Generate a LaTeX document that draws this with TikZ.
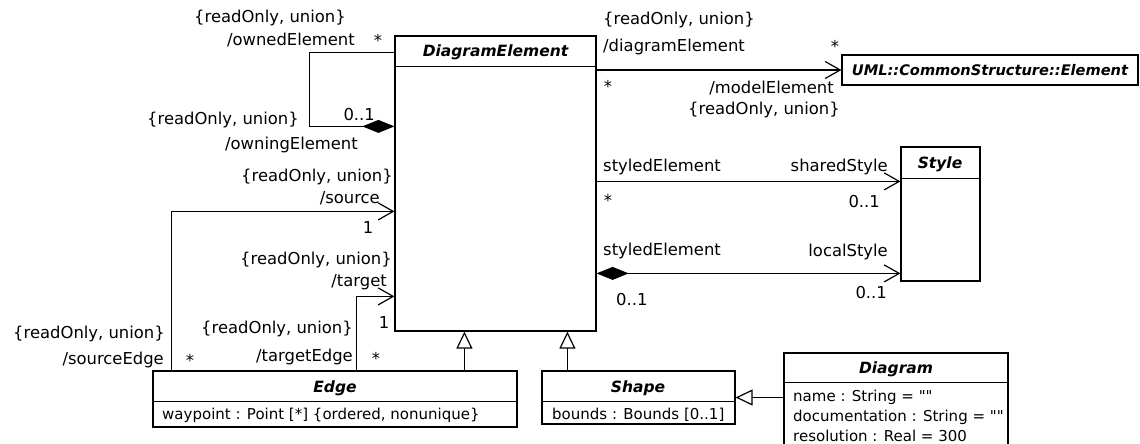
\documentclass[tikz,border=0pt]{standalone}
\usepackage{fontspec}
\setmainfont{DejaVu Sans}[Ligatures=TeXOff]
\usetikzlibrary{positioning, calc, arrows.meta}
\tikzset{
  cls/.style={draw, line width=1.2pt, inner sep=0pt},
  lbl/.style={inner sep=0pt, font=\fontsize{16.4}{18}\selectfont},
  cname/.style={inner sep=0pt, font=\fontsize{15.5}{18}\selectfont\bfseries\itshape},
  attr/.style={inner sep=0pt, anchor=west, font=\fontsize{15}{18}\selectfont},
  nav/.style={line width=1.2pt, -{Straight Barb[length=15pt,width=17pt]}},
  gen/.style={line width=1.2pt, -{Triangle[open,length=17pt,width=16pt,fill=white]}},
  comp/.style={line width=1.2pt, {Diamond[length=32pt,width=13pt]}-{Straight Barb[length=15pt,width=17pt]}},
}
\begin{document}
\begin{tikzpicture}[x=1pt, y=-1pt]
\useasboundingbox (0,0) rectangle (1140,444);
% classes
\node[cls, minimum width=201pt, minimum height=295pt] (de) at (495.5,183.5) {};
\draw[line width=1.2pt] ($(de.north west)+(0,31)$) -- ($(de.north east)+(0,31)$);
\node[cname] (denm) at (495.5,52) {DiagramElement};
\node[cls, cname, font=\fontsize{14.6}{18}\selectfont\bfseries\itshape, minimum width=296pt, minimum height=30pt] (el) at (990,70) {UML::CommonStructure::Element};
\node[cls, minimum width=79pt, minimum height=134pt] (st) at (940.5,214) {};
\draw[line width=1.2pt] ($(st.north west)+(0,32)$) -- ($(st.north east)+(0,32)$);
\node[cname] (stnm) at (940,164) {Style};
\node[cls, minimum width=364pt, minimum height=56pt] (ed) at (335,399) {};
\draw[line width=1.2pt] ($(ed.north west)+(0,31)$) -- ($(ed.north east)+(0,31)$);
\node[cname] (ednm) at (335,388) {Edge};
\node[attr] (edat) at (162,415) {waypoint : Point [*] \{ordered, nonunique\}};
\node[cls, minimum width=193pt, minimum height=53pt] (sh) at (638.5,397.5) {};
\draw[line width=1.2pt] ($(sh.north west)+(0,31)$) -- ($(sh.north east)+(0,31)$);
\node[cname] (shnm) at (638,388) {Shape};
\node[attr] (shat) at (552,415) {bounds : Bounds [0..1]};
\node[cls, minimum width=224pt, minimum height=107pt] (dg) at (896,406.5) {};
\draw[line width=1.2pt] ($(dg.north west)+(0,30)$) -- ($(dg.north east)+(0,30)$);
\node[cname] (dgnm) at (896,369) {Diagram};
\node[attr] (dga) at (793,397) {name : String = ""};
\node[attr] (dgb) at (793,417) {documentation : String = ""};
\node[attr] (dgc) at (793,436) {resolution : Real = 300};
% connectors
\draw[line width=1.2pt, -{Diamond[length=32pt,width=13pt]}] ($(de.north west)+(0,17)$) -- ++(-85,0) |- ($(de.north west)+(0,91)$);
\draw[nav] ($(ed.north west)+(19,0)$) |- ($(de.north west)+(0,176)$);
\draw[nav] ($(ed.north west)+(204,0)$) |- ($(de.north west)+(0,261)$);
\draw[gen] ($(ed.north west)+(312,0)$) -- ($(de.south west)+(70,0)$);
\draw[gen] ($(sh.north west)+(26,0)$) -- ($(de.south west)+(173,0)$);
\draw[gen] (dg.west |- sh.east) -- (sh.east);
\draw[nav] (de.east |- el.west) -- (el.west);
\draw[nav] ($(de.north east)+(0,146)$) -- ($(st.north west)+(0,35)$);
\draw[comp] ($(de.north east)+(0,238)$) -- ($(st.north west)+(0,127)$);
% role names
\node[lbl, anchor=west] (l1) at (194,18) {\{readOnly, union\}};
\node[lbl, anchor=east] (l2) at (355,40) {/ownedElement};
\node[lbl] (l3) at (378,40) {*};
\node[lbl, anchor=east] (l4) at (375,115) {0..1};
\node[lbl, anchor=west] (l5) at (147,120) {\{readOnly, union\}};
\node[lbl, anchor=east] (l6) at (358,145) {/owningElement};
\node[lbl, anchor=east] (l7) at (393,177) {\{readOnly, union\}};
\node[lbl, anchor=east] (l8) at (380,198) {/source};
\node[lbl] (l9) at (368,228) {1};
\node[lbl, anchor=east] (l10) at (392,260) {\{readOnly, union\}};
\node[lbl, anchor=east] (l11) at (387,282) {/target};
\node[lbl] (l12) at (384,323) {1};
\node[lbl, anchor=east] (l13) at (165,334) {\{readOnly, union\}};
\node[lbl, anchor=east] (l14) at (164,360) {/sourceEdge};
\node[lbl] (l15) at (190,360) {*};
\node[lbl, anchor=east] (l16) at (353,329) {\{readOnly, union\}};
\node[lbl, anchor=east] (l17) at (353,357) {/targetEdge};
\node[lbl] (l18) at (376,358) {*};
\node[lbl, anchor=west] (r1) at (603,20) {\{readOnly, union\}};
\node[lbl, anchor=west] (r2) at (603,47) {/diagramElement};
\node[lbl] (r3) at (835,46) {*};
\node[lbl] (r4) at (608,86) {*};
\node[lbl, anchor=east] (r5) at (834,88) {/modelElement};
\node[lbl, anchor=east] (r6) at (840,110) {\{readOnly, union\}};
\node[lbl, anchor=west] (r7) at (603,167) {styledElement};
\node[lbl, anchor=east] (r8) at (888,167) {sharedStyle};
\node[lbl] (r9) at (608,200) {*};
\node[lbl, anchor=east] (r10) at (880,202) {0..1};
\node[lbl, anchor=west] (r11) at (603,251) {styledElement};
\node[lbl, anchor=east] (r12) at (888,252) {localStyle};
\node[lbl, anchor=west] (r13) at (616,300) {0..1};
\node[lbl, anchor=east] (r14) at (887,293) {0..1};
\end{tikzpicture}
\end{document}
